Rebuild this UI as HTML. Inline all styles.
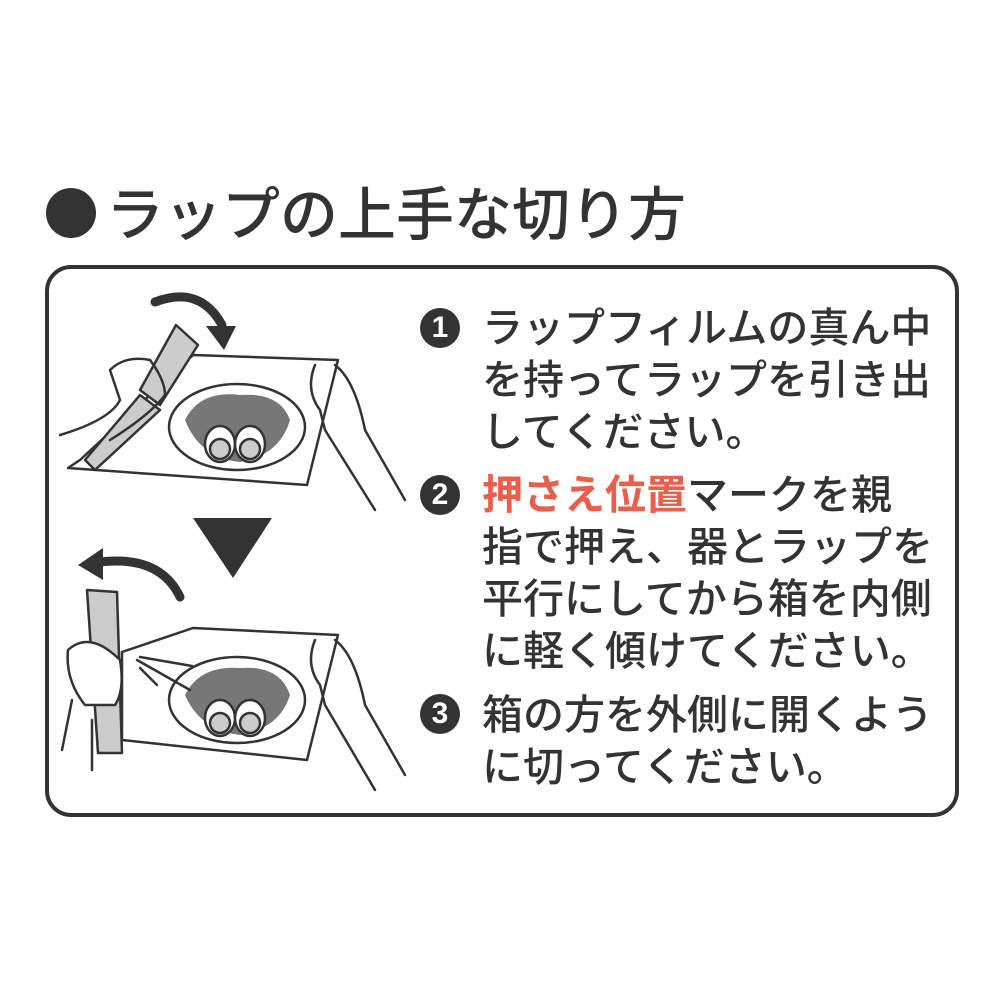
<!DOCTYPE html>
<html><head><meta charset="utf-8"><style>
body{margin:0;width:1000px;height:1000px;background:#fff;overflow:hidden;position:relative;font-family:"Liberation Sans","Noto Sans CJK JP",sans-serif;color:#333}
.t{position:absolute;left:106px;top:168px;font-size:58px;font-weight:500;white-space:nowrap}
.dot{position:absolute;left:46px;top:188px;width:50px;height:50px;border-radius:50%;background:#333}
.box{position:absolute;left:45px;top:265px;width:906px;height:544px;border:4px solid #333;border-radius:26px}
.p{position:absolute;left:482px;font-size:41px;line-height:52px;white-space:nowrap;font-weight:500}
.n{position:absolute;left:420px;width:40px;height:40px;border-radius:50%;background:#333;color:#fff;font-size:30px;font-weight:bold;text-align:center;line-height:40px}
.o{color:#e8604c;font-weight:bold}
</style></head><body>
<div class="dot"></div>
<div class="t">ラップの上手な切り方</div>
<div class="box"></div>
<div class="n" style="top:308px">1</div>
<div class="p" style="top:302px">ラップフィルムの真ん中<br>を持ってラップを引き出<br>してください。</div>
<div class="n" style="top:475px">2</div>
<div class="p" style="top:469px"><span class="o">押さえ位置</span>マークを親<br>指で押え、器とラップを<br>平行にしてから箱を内側<br>に軽く傾けてください。</div>
<div class="n" style="top:694px">3</div>
<div class="p" style="top:689px">箱の方を外側に開くよう<br>に切ってください。</div>
<svg width="1000" height="1000" style="position:absolute;left:0;top:0" fill="none" stroke="#333" stroke-width="2.5" stroke-linejoin="round" stroke-linecap="round">
<path d="M155 302 Q200 285 222 325" stroke-width="9"/>
<polygon points="206,326 236,326 224,350" fill="#333" stroke="none"/>
<polygon points="193,355 338,360 307,485 68,468 80,460" fill="#fff"/>
<polygon points="176,325 198,345 160,405 140,390" fill="#ccc"/>
<polygon points="140,395 160,410 95,470 85,460" fill="#ccc"/>
<ellipse cx="237" cy="427" rx="68" ry="43" fill="#fff"/>
<path d="M185 420 Q200 390 240 395 Q280 392 290 420 Q280 455 240 462 Q200 458 185 420Z" fill="#777" stroke="none"/>
<ellipse cx="220" cy="444" rx="15" ry="18" fill="#fff"/><circle cx="220" cy="449" r="10" fill="#ccc"/>
<ellipse cx="250" cy="444" rx="15" ry="18" fill="#fff"/><circle cx="250" cy="449" r="10" fill="#ccc"/>
<path d="M60 435 Q110 420 120 400 L110 370 Q125 355 150 360 Q165 380 165 395 Q150 415 110 440"/>
<path d="M315 365 Q305 390 320 410 L325 430 L375 510 M335 365 Q355 380 365 430 L405 500"/>
<polygon points="193,518 272,518 233,578" fill="#333" stroke="none"/>
<path d="M180 597 Q160 555 100 562" stroke-width="9"/>
<polygon points="78,565 103,548 103,580" fill="#333" stroke="none"/>
<polygon points="122,652 193,628 338,635 307,760 122,740" fill="#fff"/>
<polygon points="87,590 117,592 122,753 98,753" fill="#ccc"/>
<ellipse cx="237" cy="700" rx="68" ry="43" fill="#fff"/>
<path d="M185 695 Q200 665 240 668 Q280 665 290 695 Q280 728 240 735 Q200 730 185 695Z" fill="#777" stroke="none"/>
<ellipse cx="220" cy="718" rx="15" ry="18" fill="#fff"/><circle cx="220" cy="723" r="10" fill="#ccc"/>
<ellipse cx="250" cy="718" rx="15" ry="18" fill="#fff"/><circle cx="250" cy="723" r="10" fill="#ccc"/>
<path d="M140 657 L192 666 M137 660 L190 690 M140 668 L157 685"/>
<path d="M68 650 Q90 630 120 660 Q125 690 115 705 L85 705 Q65 680 68 650Z" fill="#fff"/>
<path d="M62 750 L72 700 M92 720 L92 770"/>
<path d="M315 640 Q305 665 320 685 L325 705 L375 790 M335 640 Q355 655 365 705 L405 775"/>
</svg>
</body></html>
